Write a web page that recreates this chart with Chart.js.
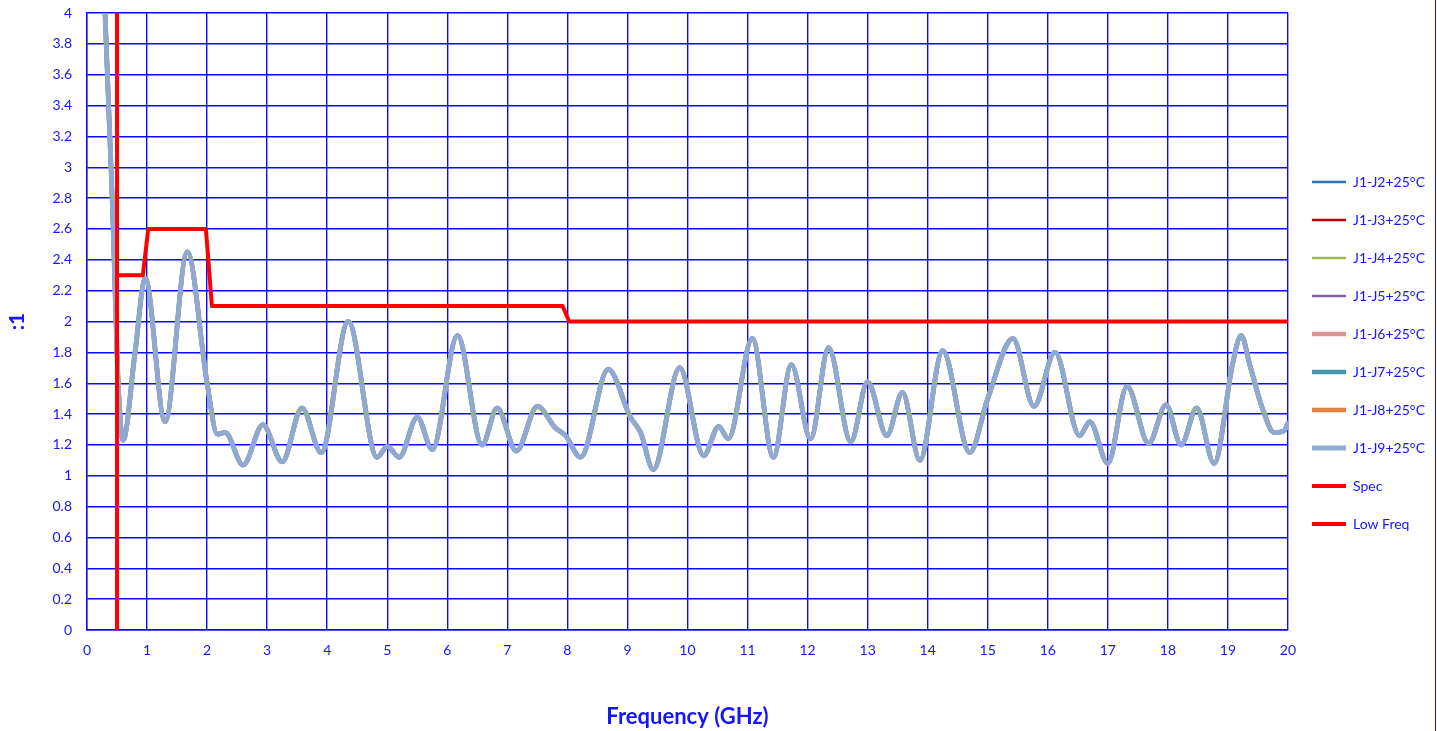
<!DOCTYPE html>
<html>
<head>
<meta charset="utf-8">
<script src="https://cdn.jsdelivr.net/npm/chart.js@4.4.1/dist/chart.umd.min.js"></script>
<style>
  html, body { margin: 0; padding: 0; background: #fff; }
  #wrap { position: relative; width: 1435px; height: 731px; border-right: 1px solid #1a1ac8; }
</style>
</head>
<body>
<div id="wrap"><canvas id="vswrChart" width="1435" height="731"></canvas></div>
<script>
// measured sweep, all 8 ports sit on top of each other
const freqGHz = [0.25, 0.3, 0.42, 0.52, 0.6, 0.8, 0.97, 1.3, 1.67, 2.0, 2.17, 2.3, 2.6, 2.93, 3.25, 3.58, 3.9,
  4.35, 4.83, 5.0, 5.2, 5.5, 5.75, 6.17, 6.58, 6.83, 7.15, 7.5, 7.8, 7.97, 8.22, 8.68, 9.05, 9.22, 9.43,
  9.87, 10.27, 10.52, 10.68, 11.08, 11.43, 11.73, 12.05, 12.35, 12.72, 13.0, 13.32, 13.58, 13.87, 14.25,
  14.7, 15.0, 15.42, 15.77, 16.12, 16.53, 16.7, 17.0, 17.32, 17.68, 17.97, 18.22, 18.48, 18.77, 19.08,
  19.22, 19.37, 19.58, 19.77, 19.93, 20];
const vswr = [4.6, 4.0, 2.8, 1.6, 1.23, 1.8, 2.28, 1.35, 2.45, 1.6, 1.27, 1.28, 1.07, 1.33, 1.09, 1.44, 1.15,
  2.0, 1.12, 1.19, 1.12, 1.38, 1.17, 1.91, 1.2, 1.44, 1.16, 1.45, 1.31, 1.26, 1.12, 1.69, 1.38, 1.28, 1.04,
  1.70, 1.13, 1.32, 1.24, 1.89, 1.12, 1.72, 1.24, 1.83, 1.22, 1.61, 1.26, 1.54, 1.10, 1.81,
  1.15, 1.5, 1.89, 1.45, 1.80, 1.26, 1.35, 1.08, 1.58, 1.21, 1.46, 1.20, 1.44, 1.08, 1.73,
  1.91, 1.71, 1.43, 1.28, 1.29, 1.34];

const specFreq = [0.5, 0.93, 1.02, 1.98, 2.08, 7.92, 8.03, 20];
const specLimit = [2.3, 2.3, 2.6, 2.6, 2.1, 2.1, 2.0, 2.0];
const lowFreqX = [0.5, 0.5];
const lowFreqY = [0, 4];

const portLabels = ["J1-J2+25°C", "J1-J3+25°C", "J1-J4+25°C", "J1-J5+25°C",
  "J1-J6+25°C", "J1-J7+25°C", "J1-J8+25°C", "J1-J9+25°C"];
const portColors = ["#2E75B6", "#C00000", "#9BBB59", "#8064A2", "#D99694", "#4198AF", "#E0823D", "#8FA9D0"];
const portWidths = [2.5, 2.5, 2.5, 2.5, 4.5, 4.5, 4.5, 5];

const xTicks = [0, 20, 1];
const yTicks = [0, 4, 0.2];

const blue = "#1414ff";
const gridBlue = "#0a0aff";

function toPoints(xs, ys) {
  return xs.map((x, i) => ({ x: x, y: ys[i] }));
}

const datasets = [];
datasets.push({
  label: "Low Freq", data: toPoints(lowFreqX, lowFreqY),
  borderColor: "#ff0000", backgroundColor: "#ff0000", borderWidth: 4, tension: 0
});
datasets.push({
  label: "Spec", data: toPoints(specFreq, specLimit),
  borderColor: "#ff0000", backgroundColor: "#ff0000", borderWidth: 4, tension: 0, borderJoinStyle: "round"
});
for (let i = portLabels.length - 1; i >= 0; i--) {
  datasets.push({
    label: portLabels[i], data: toPoints(freqGHz, vswr),
    borderColor: portColors[i], backgroundColor: portColors[i], borderWidth: portWidths[i],
    cubicInterpolationMode: "monotone"
  });
}

const ctx = document.getElementById("vswrChart").getContext("2d");
new Chart(ctx, {
  type: "line",
  data: { datasets },
  options: {
    responsive: false,
    animation: false,
    layout: { padding: { top: 13, left: 0, right: 0, bottom: 0 } },
    elements: { point: { radius: 0, pointStyle: "line" }, line: { borderCapStyle: "round" } },
    plugins: {
      tooltip: { enabled: false },
      legend: {
        position: "right",
        align: "start",
        reverse: true,
        maxWidth: 148,
        title: { display: true, text: "", padding: { top: 0, bottom: 123.6 } },
        labels: {
          usePointStyle: true,
          pointStyle: "line",
          pointStyleWidth: 34,
          padding: 24,
          color: blue,
          font: { family: "Lato", size: 14 }
        }
      }
    },
    scales: {
      x: {
        type: "linear",
        min: xTicks[0], max: xTicks[1],
        afterFit: (s) => { s.height = 101; },
        ticks: { stepSize: xTicks[2], autoSkip: false, maxRotation: 0, padding: 12, color: blue,
          font: { family: "Lato", size: 14 } },
        grid: { color: gridBlue, lineWidth: 1.4, drawTicks: false },
        border: { color: gridBlue, width: 1.4 },
        title: { display: true, text: "Frequency (GHz)", color: blue,
          font: { family: "Lato", size: 22, weight: "bold" }, padding: { top: 0, bottom: 1 } }
      },
      y: {
        min: yTicks[0], max: yTicks[1],
        afterFit: (s) => { s.width = 87; s.paddingTop = 0; s.paddingBottom = 0; },
        ticks: { stepSize: yTicks[2], autoSkip: false, padding: 15, color: blue,
          font: { family: "Lato", size: 14 },
          callback: (v) => String(Number(v.toFixed(1))) },
        grid: { color: gridBlue, lineWidth: 1.4, drawTicks: false },
        border: { color: gridBlue, width: 1.4 },
        title: { display: true, text: ":1", color: blue,
          font: { family: "Lato", size: 21, weight: "bold" }, padding: { top: 5, bottom: 0 } }
      }
    }
  }
});
</script>
</body>
</html>
